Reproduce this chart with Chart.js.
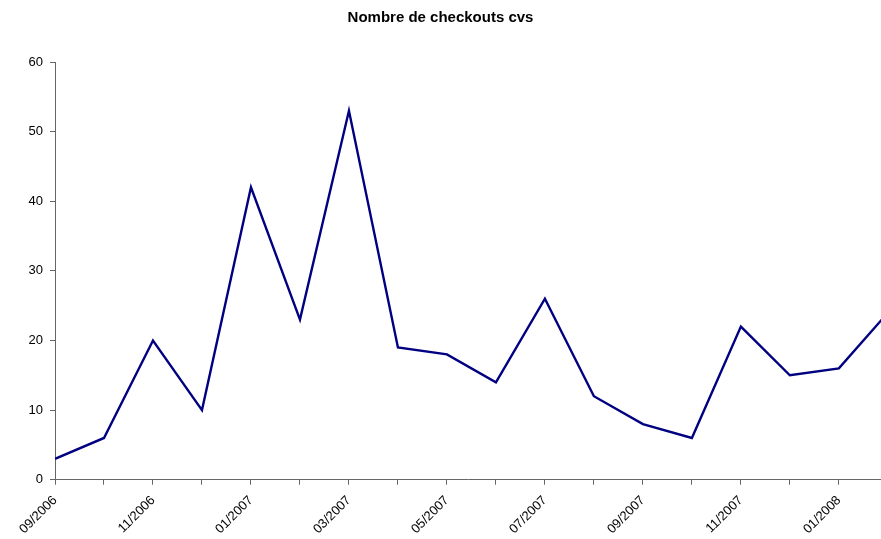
<!DOCTYPE html>
<html>
<head>
<meta charset="utf-8">
<script src="https://cdn.jsdelivr.net/npm/chart.js@4/dist/chart.umd.min.js"></script>
<style>
  html, body { margin: 0; padding: 0; background: #fff; overflow: hidden; }
  #wrap { width: 881px; height: 539px; }
</style>
</head>
<body>
<div id="wrap"><canvas id="c" width="881" height="539"></canvas></div>
<script>
// Monthly CVS checkouts
const months = ['09/2006','10/2006','11/2006','12/2006','01/2007','02/2007','03/2007','04/2007','05/2007',
                '06/2007','07/2007','08/2007','09/2007','10/2007','11/2007','12/2007','01/2008','02/2008'];
const checkouts = [3, 6, 20, 10, 42, 23, 53, 19, 18, 14, 26, 12, 8, 6, 22, 15, 16, 24];
const yTicks = [0, 10, 20, 30, 40, 50, 60];

const font = "'Liberation Sans', Arial, sans-serif";
const axisColor = '#666666';

new Chart(document.getElementById('c'), {
  type: 'line',
  data: {
    datasets: [{
      data: checkouts.map((v, i) => ({ x: i, y: v })),
      borderColor: '#000080',
      borderWidth: 2.4,
      pointRadius: 0,
      tension: 0,
      fill: false
    }]
  },
  options: {
    responsive: false,
    animation: false,
    events: [],
    layout: { padding: { left: 0, right: 0, top: 0, bottom: -6 } },
    plugins: {
      legend: { display: false },
      tooltip: { enabled: false },
      title: {
        display: true,
        text: 'Nombre de checkouts cvs',
        color: '#000',
        font: { family: font, size: 15, weight: 'bold' },
        padding: { top: 9, bottom: 35 }
      }
    },
    scales: {
      x: {
        type: 'linear',
        min: 0,
        max: 16.86,   // window ends partway into the last month
        border: { display: true, color: axisColor, width: 1 },
        grid: { display: true, drawOnChartArea: false, drawTicks: true, tickLength: 5, color: axisColor },
        ticks: {
          stepSize: 1,
          includeBounds: false,
          autoSkip: false,
          maxRotation: 45,
          minRotation: 45,
          padding: 8,
          color: '#000',
          font: { family: font, size: 13 },
          callback: (v) => (Number.isInteger(v) && v % 2 === 0 && months[v]) ? months[v] : ''
        }
      },
      y: {
        min: yTicks[0],
        max: yTicks[yTicks.length - 1],
        afterFit: (s) => { s.width = 55; },
        border: { display: true, color: axisColor, width: 1 },
        grid: { display: true, drawOnChartArea: false, drawTicks: true, tickLength: 5, color: axisColor },
        ticks: {
          stepSize: 10,
          padding: 7,
          color: '#000',
          font: { family: font, size: 13 }
        }
      }
    }
  }
});
</script>
</body>
</html>
